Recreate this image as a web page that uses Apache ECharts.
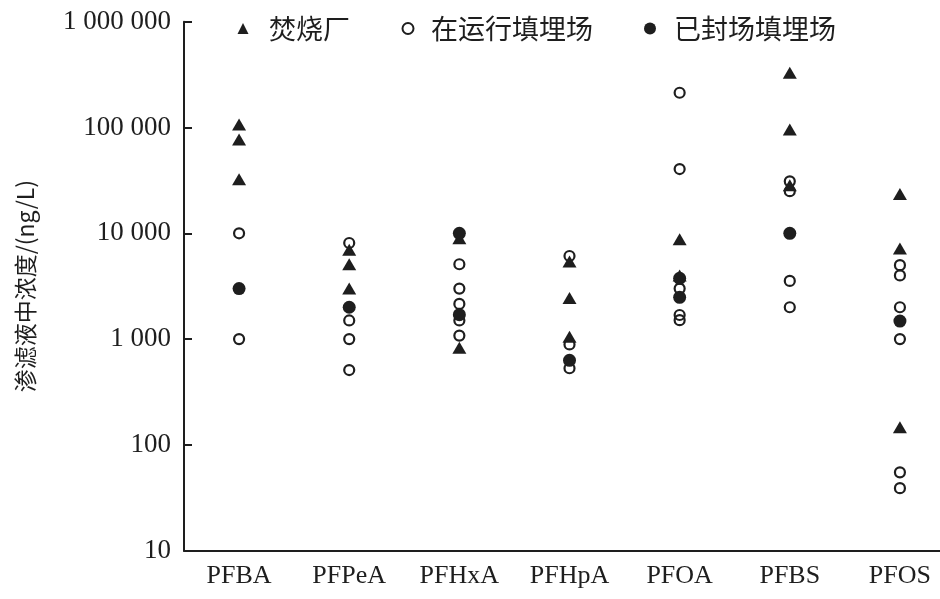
<!DOCTYPE html>
<html>
<head>
<meta charset="utf-8">
<script src="https://cdn.jsdelivr.net/npm/echarts@6/dist/echarts.min.js"></script>
<style>
html,body{margin:0;padding:0;background:#fff;}
#chart{width:940px;height:599px;}
</style>
</head>
<body>
<div id="chart"></div>
<script>
// Categories (x axis)
const categories = ['PFBA', 'PFPeA', 'PFHxA', 'PFHpA', 'PFOA', 'PFBS', 'PFOS'];
// Y tick values (log axis)
const yTicks = [10, 100, 1000, 10000, 100000, 1000000];
// Series names
const seriesNames = ['焚烧厂', '在运行填埋场', '已封场填埋场'];
// 焚烧厂 (incineration plant) values per category, ng/L
const incinerator = [
  [107000, 77000, 32500],
  [7000, 5100, 3000],
  [9000, 830],
  [5400, 2450, 1050],
  [8800, 4000],
  [330000, 96000, 28500],
  [23500, 7200, 147]
];
// 在运行填埋场 (operating landfill) values per category, ng/L
const operatingLandfill = [
  [10000, 1000],
  [8100, 1500, 1000, 510],
  [5100, 3000, 2150, 1500, 1080],
  [6100, 890, 530],
  [213000, 40500, 3000, 1690, 1510],
  [31000, 25000, 3550, 2000],
  [5000, 4000, 2000, 1000, 55, 39]
];
// 已封场填埋场 (closed landfill) values per category, ng/L
const closedLandfill = [
  [3000],
  [2000],
  [10000, 1700],
  [630],
  [3750, 2480],
  [10000],
  [1480]
];

function toPoints(groups) {
  const out = [];
  groups.forEach((vals, i) => vals.forEach(v => out.push([categories[i], v])));
  return out;
}

function fmt(v) {
  return String(Math.round(v)).replace(/\B(?=(\d{3})+(?!\d))/g, ' ');
}

const ink = '#1e1e1e';
const serif = '"Liberation Serif", "Times New Roman", serif';
const cjk = '"Noto Sans CJK SC", sans-serif';

function legendItem(name, left, pad, size) {
  return {
    data: [name], left: left, top: 15, padding: 0,
    itemWidth: size, itemHeight: size,
    textStyle: {fontFamily: cjk, fontSize: 27, color: ink, padding: [0, 0, 0, pad]}
  };
}

const chart = echarts.init(document.getElementById('chart'), null, {renderer: 'canvas'});
chart.setOption({
  animation: false,
  backgroundColor: '#fff',
  grid: {left: 184, top: 21.7, width: 771, height: 529, containLabel: false, outerBoundsMode: 'none'},
  legend: [
    legendItem(seriesNames[0], 237.5, 15.5, 11),
    legendItem(seriesNames[1], 401.5, 12.5, 11),
    legendItem(seriesNames[2], 644, 13, 12)
  ],
  xAxis: {
    type: 'category',
    data: categories,
    boundaryGap: true,
    axisLine: {lineStyle: {color: ink, width: 2}},
    axisTick: {inside: true, alignWithLabel: true, length: 8, lineStyle: {color: ink, width: 2}},
    axisLabel: {fontFamily: serif, fontSize: 26, color: ink, margin: 12, interval: 0},
    splitLine: {show: false}
  },
  yAxis: {
    type: 'log',
    logBase: 10,
    min: yTicks[0],
    max: yTicks[yTicks.length - 1],
    name: '渗滤液中浓度/(ng/L)',
    nameLocation: 'middle',
    nameGap: 147,
    nameRotate: 90,
    nameTextStyle: {fontFamily: cjk, fontSize: 23, color: ink},
    axisLine: {show: true, lineStyle: {color: ink, width: 2}},
    axisTick: {show: true, inside: true, length: 8, lineStyle: {color: ink, width: 2}},
    axisLabel: {fontFamily: serif, fontSize: 27, color: ink, margin: 13, formatter: fmt},
    splitLine: {show: false},
    minorTick: {show: false}
  },
  series: [
    {
      name: seriesNames[1],
      type: 'scatter',
      symbol: 'circle',
      symbolSize: 10,
      z: 2,
      itemStyle: {color: 'rgba(255,255,255,0)', borderColor: ink, borderWidth: 2.2, opacity: 1},
      data: toPoints(operatingLandfill)
    },
    {
      name: seriesNames[0],
      type: 'scatter',
      symbol: 'triangle',
      symbolSize: [14, 12],
      z: 3,
      itemStyle: {color: ink, opacity: 1},
      data: toPoints(incinerator)
    },
    {
      name: seriesNames[2],
      type: 'scatter',
      symbol: 'circle',
      symbolSize: 13,
      z: 4,
      itemStyle: {color: ink, opacity: 1},
      data: toPoints(closedLandfill)
    }
  ]
});
</script>
</body>
</html>
